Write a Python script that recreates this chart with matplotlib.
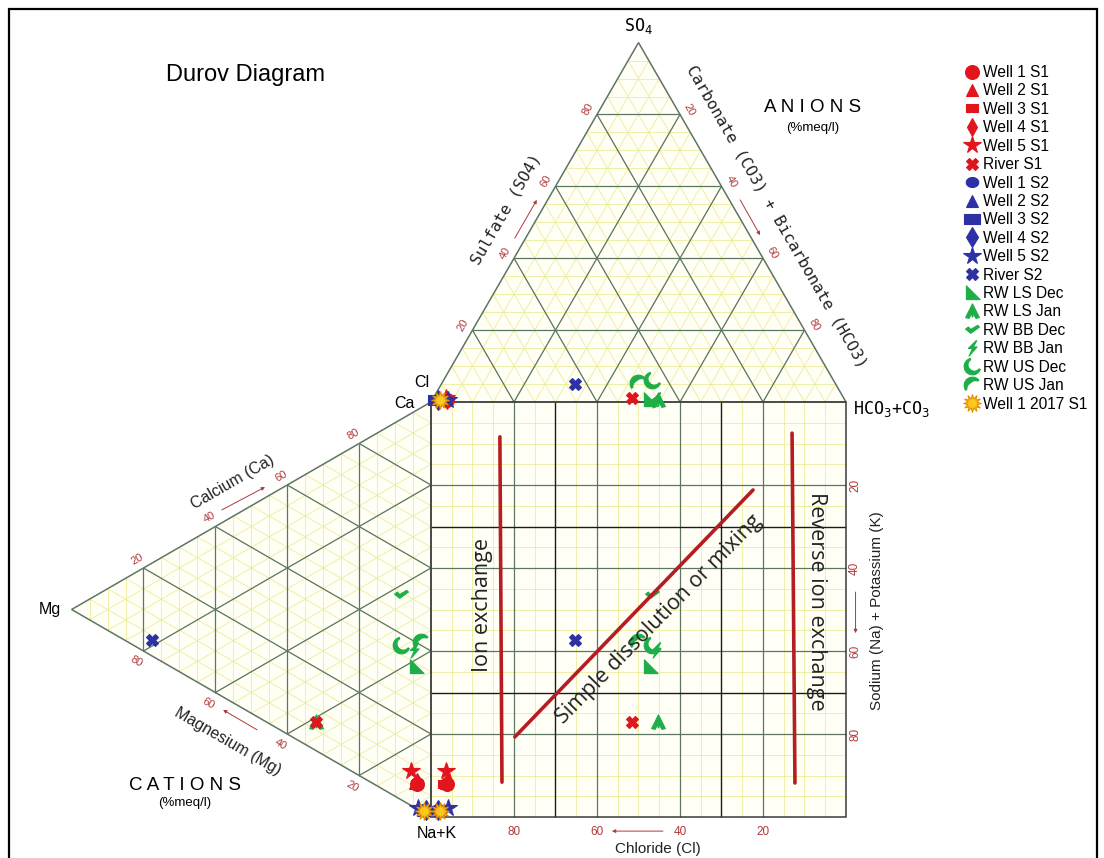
import numpy as np
import matplotlib
matplotlib.use("Agg")
import matplotlib.pyplot as plt
from matplotlib.path import Path
from matplotlib.patches import Polygon, Rectangle

# ---------------- sample chemistry (% meq/l) ----------------
samples = ["Well 1 S1", "Well 2 S1", "Well 3 S1", "Well 4 S1", "Well 5 S1", "River S1",
           "Well 1 S2", "Well 2 S2", "Well 3 S2", "Well 4 S2", "Well 5 S2", "River S2",
           "RW LS Dec", "RW LS Jan", "RW BB Dec", "RW BB Jan", "RW US Dec", "RW US Jan",
           "Well 1 2017 S1"]
cl   = [96.0, 96.0, 96.5, 96.0, 96.0, 51.0, 98.0, 98.0, 98.5, 98.0, 95.7, 62.8,
        47.0, 45.0, 46.5, 45.5, 43.7, 47.5, 97.5]
so4  = [0.5, 1.0, 0.5, 0.5, 1.0, 1.0, 0.5, 1.0, 0.5, 0.5, 0.5, 5.0,
        0.5, 0.5, 0.5, 0.5, 6.1, 5.3, 0.5]
hco3 = [3.5, 3.0, 3.0, 3.5, 3.0, 48.0, 1.5, 1.0, 1.0, 1.5, 3.8, 32.2,
        52.5, 54.5, 53.0, 54.0, 50.2, 47.2, 2.0]
ca   = [6.0, 6.0, 6.0, 6.5, 8.3, 7.0, 1.0, 1.0, 0.5, 1.0, 0.4, 3.8,
        34.0, 7.0, 49.5, 37.9, 37.3, 40.8, 0.4]
mg   = [4.0, 4.5, 4.0, 4.0, 5.6, 32.0, 2.0, 2.0, 1.8, 1.5, 3.6, 77.7,
        4.2, 32.0, 8.4, 4.7, 8.3, 2.8, 2.0]
nak  = [90.0, 89.5, 90.0, 89.5, 86.1, 61.0, 97.0, 97.0, 97.7, 97.5, 96.0, 18.5,
        61.8, 61.0, 42.1, 57.4, 54.4, 56.4, 97.6]

# axis tick values
tick_vals = [20, 40, 60, 80]

# ---------------- geometry ----------------
T = 100 * np.sqrt(3) / 2  # triangle height for a side of 100


def anion_xy(c, s, h):
    tot = c + s + h
    s, h = s / tot, h / tot
    return 100 * (h + s / 2), T * s


def cation_xy(c, m, n):
    tot = c + m + n
    m, n = m / tot, n / tot
    return -T * m, -100 * (n + m / 2)


# ---------------- custom marker shapes ----------------
def poly_marker(pts):
    pts = np.asarray(pts, float)
    verts = np.vstack([pts, pts[:1]])
    codes = [Path.MOVETO] + [Path.LINETO] * (len(pts) - 1) + [Path.CLOSEPOLY]
    return Path(verts, codes)


def arc_marker(t1, t2, w, n=40):
    t = np.radians(np.linspace(t1, t2, n))
    taper = np.sin(np.linspace(0, np.pi, n))
    outer = np.c_[np.cos(t), np.sin(t)]
    rin = 1 - w * (0.3 + 0.7 * taper)
    inner = np.c_[rin * np.cos(t), rin * np.sin(t)][::-1]
    return poly_marker(np.vstack([outer, inner]))


rect_m = poly_marker([(-1, -0.7), (1, -0.7), (1, 0.7), (-1, 0.7)])
ell_m = poly_marker(np.c_[np.cos(np.linspace(0, 2 * np.pi, 40)),
                          0.8 * np.sin(np.linspace(0, 2 * np.pi, 40))])
rtri_m = poly_marker([(-0.8, 1), (-0.8, -0.8), (1, -0.8), (0.3, -0.1)])
chev_m = poly_marker([(0, 1), (0.9, -0.8), (0.45, -0.9), (0.05, -0.15),
                      (0.05, -0.7), (-0.05, -0.7), (-0.05, -0.15),
                      (-0.45, -0.9), (-0.9, -0.8)])
check_m = poly_marker([(-1, 0.05), (-0.6, 0.35), (-0.25, 0.0), (0.75, 0.6),
                       (1, 0.35), (-0.25, -0.55)])
bolt_m = poly_marker([(0.45, 1), (-0.55, 0.0), (0.0, 0.0), (-0.45, -1),
                      (0.6, 0.2), (0.1, 0.2), (0.55, 1)])
usdec_m = arc_marker(105, 340, 0.55)
usjan_m = arc_marker(40, 215, 0.6)

RED, BLUE, GREEN, YELLOW = "#e3151c", "#2e31a6", "#1eae48", "#ffc81e"
styles = [
    dict(marker='o', color=RED, ms=10, z=4.05),
    dict(marker='^', color=RED, ms=9, z=4.0),
    dict(marker=rect_m, color=RED, ms=9, z=4.0),
    dict(marker='d', color=RED, ms=9, z=4.0),
    dict(marker='*', color=RED, ms=13, z=4.06),
    dict(marker='X', color=RED, ms=9, z=4.6),
    dict(marker=ell_m, color=BLUE, ms=9, z=4.1),
    dict(marker='^', color=BLUE, ms=9, z=4.1),
    dict(marker=rect_m, color=BLUE, ms=11, z=4.1),
    dict(marker='d', color=BLUE, ms=10, z=4.1),
    dict(marker='*', color=BLUE, ms=13, z=4.1),
    dict(marker='X', color=BLUE, ms=9, z=4.6),
    dict(marker=rtri_m, color=GREEN, ms=11, z=4.2),
    dict(marker=chev_m, color=GREEN, ms=11, z=4.2),
    dict(marker=check_m, color=GREEN, ms=10, z=4.2),
    dict(marker=bolt_m, color=GREEN, ms=11, z=4.2),
    dict(marker=usdec_m, color=GREEN, ms=12, z=4.2),
    dict(marker=usjan_m, color=GREEN, ms=12, z=4.2),
    dict(marker=(12, 1, 0), color=YELLOW, ms=13, z=4.8),
]

# ---------------- figure ----------------
W_PX, H_PX = 1104, 858
SC = 4.15            # pixels per percent unit
X0, Y0 = 431, 402    # pixel position of the Ca/Cl corner
fig = plt.figure(figsize=(W_PX / 100, H_PX / 100), dpi=100)
ax = fig.add_axes([0, 0, 1, 1])
ax.set_xlim(-X0 / SC, (W_PX - X0) / SC)
ax.set_ylim((Y0 - H_PX) / SC, Y0 / SC)
ax.axis('off')

SANS = "Liberation Sans"
MONO = "DejaVu Sans Mono"
TICK_C = "#b03a3a"
MAJOR_C = "#5d7563"
MINOR_C = "#ecec9c"
FILL_C = "#fffff6"

# background fills
top_tri = [(0, 0), (100, 0), (50, T)]
left_tri = [(0, 0), (0, -100), (-T, -50)]
for pts in (top_tri, left_tri, [(0, 0), (100, 0), (100, -100), (0, -100)]):
    ax.add_patch(Polygon(pts, closed=True, fc=FILL_C, ec='none', zorder=0))


def seg(p, q, **kw):
    ax.plot([p[0], q[0]], [p[1], q[1]], solid_capstyle='butt', **kw)


def tri_grid(step, **kw):
    for v in np.arange(step, 100, step):
        f = v / 100
        # anion triangle
        seg((50 * f, T * f), (100 - 50 * f, T * f), **kw)             # SO4
        seg((100 * f, 0), (50 * (1 + f), T * (1 - f)), **kw)          # HCO3
        seg((100 * (1 - f), 0), (50 * (1 - f), T * (1 - f)), **kw)   # Cl
        # cation triangle
        seg((-T * f, -50 * f), (-T * f, -100 + 50 * f), **kw)          # Mg
        seg((0, -100 * (1 - f)), (-T * (1 - f), -50 * (1 - f)), **kw)  # Ca
        seg((0, -100 * f), (-T * (1 - f), -100 * f - 50 * (1 - f)), **kw)  # Na+K


tri_grid(5, color=MINOR_C, lw=0.6, zorder=1)
for v in np.arange(5, 100, 5):
    seg((v, 0), (v, -100), color=MINOR_C, lw=0.6, zorder=1)
    seg((0, -v), (100, -v), color=MINOR_C, lw=0.6, zorder=1)
tri_grid(20, color=MAJOR_C, lw=0.9, zorder=2)
for v in (20, 40, 60, 80):
    seg((v, 0), (v, -100), color=MAJOR_C, lw=0.9, zorder=2)
    seg((0, -v), (100, -v), color=MAJOR_C, lw=0.9, zorder=2)
for v in (30, 70):
    seg((v, 0), (v, -100), color='#1a1a1a', lw=1.0, zorder=2.1)
    seg((0, -v), (100, -v), color='#1a1a1a', lw=1.0, zorder=2.1)

# outlines
ax.add_patch(Polygon(top_tri, closed=True, fill=False, ec=MAJOR_C, lw=1.1, zorder=3))
ax.add_patch(Polygon(left_tri, closed=True, fill=False, ec=MAJOR_C, lw=1.1, zorder=3))
ax.add_patch(Polygon([(0, 0), (100, 0), (100, -100), (0, -100)], closed=True,
                     fill=False, ec='#3a3a3a', lw=1.1, zorder=3))

# ---------------- samples ----------------
handles = []
for i, name in enumerate(samples):
    axx, axy = anion_xy(cl[i], so4[i], hco3[i])
    cxx, cxy = cation_xy(ca[i], mg[i], nak[i])
    st = styles[i]
    edge = '#e09000' if st['color'] == YELLOW else st['color']
    h, = ax.plot([axx, cxx, axx], [axy, cxy, cxy], ls='none', marker=st['marker'],
                 ms=st['ms'], mfc=st['color'], mec=edge, mew=0.8,
                 zorder=st['z'], label=name)
    handles.append(h)

# ---------------- process lines & labels ----------------
LINE_C = "#b51d22"
ax.plot([16.6, 17.1], [-8.4, -91.6], color=LINE_C, lw=2.6, zorder=5, solid_capstyle='round')
ax.plot([87.0, 87.7], [-7.5, -91.8], color=LINE_C, lw=2.6, zorder=5, solid_capstyle='round')
ax.plot([20.2, 77.6], [-80.7, -21.2], color=LINE_C, lw=2.6, zorder=5, solid_capstyle='round')

ANN = "Open Sans"
ax.text(12.3, -48.9, "Ion exchange", rotation=90, ha='center', va='center',
        fontsize=15.5, family=ANN, color='#222222', zorder=6)
ax.text(93.0, -48.0, "Reverse ion exchange", rotation=-90, ha='center', va='center',
        fontsize=15.5, family=ANN, color='#222222', zorder=6)
ax.text(55.0, -52.4, "Simple dissolution or mixing", rotation=45.5, ha='center',
        va='center', fontsize=15.5, family=ANN, color='#222222', zorder=6,
        rotation_mode='anchor')

# ---------------- ticks ----------------
for v in tick_vals:
    f = v / 100
    # SO4 along left edge of anion triangle
    px, py = 50 * f, T * f
    ax.text(px - 2.2, py + 1.2, str(v), rotation=60, ha='center', va='center',
            fontsize=8, family=SANS, color=TICK_C)
    # HCO3 along right edge (increasing downwards)
    px, py = 50 * (1 + f), T * (1 - f)
    ax.text(px + 2.3, py + 1.2, str(v), rotation=-60, ha='center', va='center',
            fontsize=8, family=SANS, color=TICK_C)
    # Ca along upper edge of cation triangle
    px, py = -T * (1 - f), -50 * (1 - f)
    ax.text(px - 1.4, py + 2.2, str(v), rotation=30, ha='center', va='center',
            fontsize=8, family=SANS, color=TICK_C)
    # Mg along lower edge of cation triangle
    px, py = -T * f, -100 + 50 * f
    ax.text(px - 1.6, py - 2.6, str(v), rotation=-30, ha='center', va='center',
            fontsize=8, family=SANS, color=TICK_C)
    # Chloride along square bottom
    ax.text(100 - v, -103.6, str(v), ha='center', va='center',
            fontsize=8.5, family=SANS, color=TICK_C)
    # Na+K along square right side
    ax.text(102.2, -v, str(v), rotation=90, ha='center', va='center',
            fontsize=8.5, family=SANS, color=TICK_C)


def small_arrow(tail, head):
    ax.annotate('', xy=head, xytext=tail,
                arrowprops=dict(arrowstyle='-|>', color=TICK_C, lw=0.7,
                                mutation_scale=5, shrinkA=0, shrinkB=0))


small_arrow((20.2, 39.5), (25.5, 48.7))
small_arrow((74.5, 48.7), (79.3, 40.2))
small_arrow((-50.4, -26.0), (-40.0, -20.5))
small_arrow((-41.9, -79.0), (-50.1, -74.2))
small_arrow((55.9, -103.4), (43.6, -103.4))
small_arrow((102.3, -45.8), (102.3, -55.7))

# ---------------- axis titles ----------------
ax.text(18.1, 46.5, "Sulfate (SO4)", rotation=60, ha='center', va='center',
        fontsize=11.5, family=MONO, color='#222222')
ax.text(83.4, 44.8, "Carbonate (CO3) + Bicarbonate (HCO3)", rotation=-60,
        ha='center', va='center', fontsize=11.5, family=MONO, color='#222222')
ax.text(-47.9, -19.3, "Calcium (Ca)", rotation=30, ha='center', va='center',
        fontsize=11.5, family=SANS, color='#222222')
ax.text(-48.9, -81.9, "Magnesium (Mg)", rotation=-30, ha='center', va='center',
        fontsize=11.5, family=SANS, color='#222222')
ax.text(54.7, -107.6, "Chloride (Cl)", ha='center', va='center',
        fontsize=11, family=SANS, color='#222222')
ax.text(107.5, -50.3, "Sodium (Na) + Potassium (K)", rotation=90, ha='center',
        va='center', fontsize=11, family=SANS, color='#222222')

# corner labels
ax.text(49.9, 90.6, "SO$_4$", ha='center', va='center', fontsize=12, family=MONO)
ax.text(-2.2, 4.6, "Cl", ha='center', va='center', fontsize=11.5, family=SANS)
ax.text(-6.3, -0.3, "Ca", ha='center', va='center', fontsize=11.5, family=SANS)
ax.text(101.7, -1.6, "HCO$_3$+CO$_3$", ha='left', va='center', fontsize=12, family=MONO)
ax.text(-91.8, -50.0, "Mg", ha='center', va='center', fontsize=11.5, family=SANS)
ax.text(1.4, -104.0, "Na+K", ha='center', va='center', fontsize=11.5, family=SANS)

# headings
ax.text(-44.8, 78.8, "Durov Diagram", ha='center', va='center', fontsize=17, family=SANS)
ax.text(92.0, 71.0, "A N I O N S", ha='center', va='center', fontsize=13.5, family=SANS)
ax.text(92.0, 66.0, "(%meq/l)", ha='center', va='center', fontsize=9.5, family=SANS)
ax.text(-59.3, -92.3, "C A T I O N S", ha='center', va='center', fontsize=13.5, family=SANS)
ax.text(-59.3, -96.7, "(%meq/l)", ha='center', va='center', fontsize=9.5, family=SANS)

# legend
leg = ax.legend(handles=handles, loc='upper left',
                bbox_to_anchor=(966 / W_PX, 1 - 65 / H_PX), bbox_transform=fig.transFigure,
                frameon=False, handlelength=0.8, handletextpad=0.3,
                labelspacing=0.22, borderpad=0, borderaxespad=0,
                prop=dict(family=SANS, size=11.2))

# outer frame
fig.patches.append(Rectangle((9 / W_PX, -0.02), (1097 - 9) / W_PX, 1.02 - 9 / H_PX,
                             transform=fig.transFigure, fill=False, ec='black', lw=1.6))

fig.savefig("out.png", dpi=100, facecolor='white')
